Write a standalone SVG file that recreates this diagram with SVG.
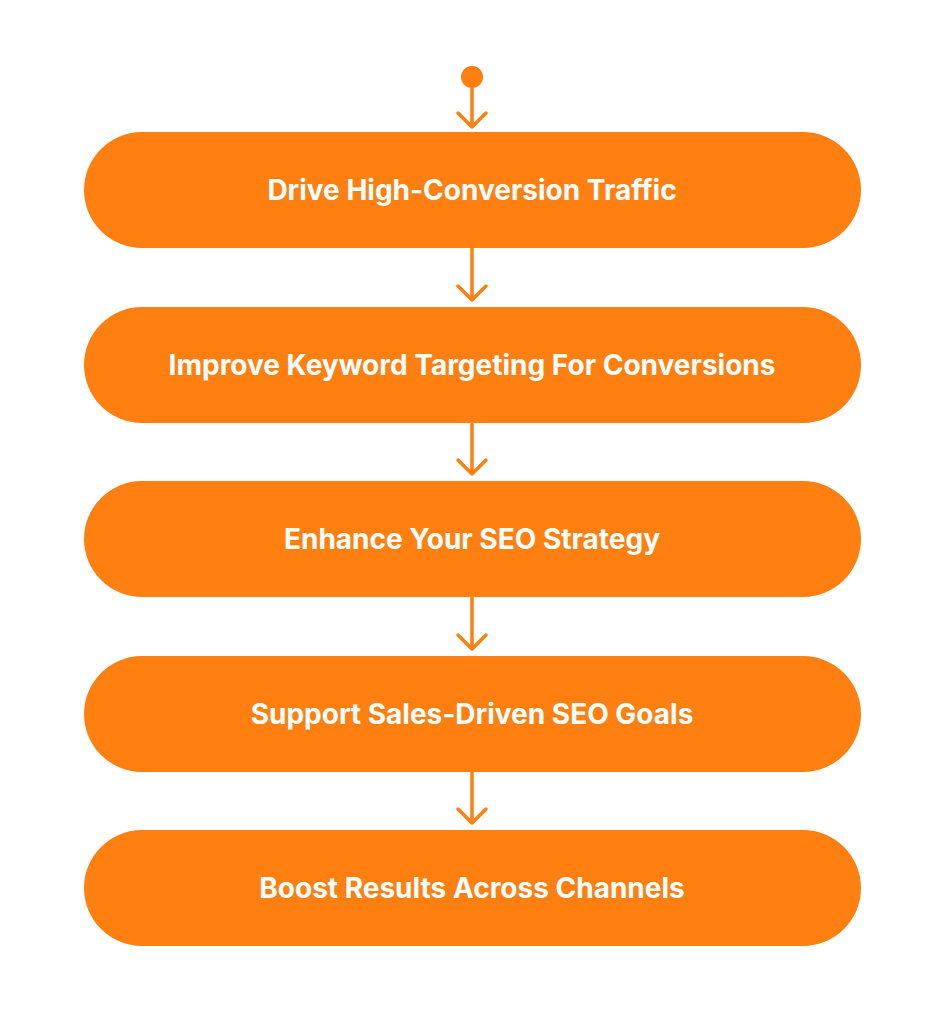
<svg xmlns="http://www.w3.org/2000/svg" width="945" height="1024" viewBox="0 0 945 1024">
<style>
.n{fill:#FF7F10}
.t{fill:#fff;font-family:Inter,"Liberation Sans",sans-serif;font-weight:700;font-size:28px;text-anchor:middle;dominant-baseline:central}
.c{stroke:#FF7F10;stroke-width:3.5;fill:none;stroke-linecap:round;stroke-linejoin:round}
</style>
<rect width="945" height="1024" fill="#fff"/>
<g id="connectors">
<circle cx="472" cy="77" r="11" fill="#FF7F10"/>
<path class="c" d="M472 80V127M458 113L472 127L486 113"/>
<path class="c" d="M472 249V300M458 286L472 300L486 286"/>
<path class="c" d="M472 424V474M458 460L472 474L486 460"/>
<path class="c" d="M472 598V649M458 635L472 649L486 635"/>
<path class="c" d="M472 773V823M458 809L472 823L486 809"/>
</g>
<g id="n1"><rect class="n" x="84" y="132" width="777" height="116" rx="58"/><text class="t" x="472" y="190">Drive High-Conversion Traffic</text></g>
<g id="n2"><rect class="n" x="84" y="307" width="777" height="116" rx="58"/><text class="t" x="472" y="365">Improve Keyword Targeting For Conversions</text></g>
<g id="n3"><rect class="n" x="84" y="481" width="777" height="116" rx="58"/><text class="t" x="472" y="539">Enhance Your SEO Strategy</text></g>
<g id="n4"><rect class="n" x="84" y="656" width="777" height="116" rx="58"/><text class="t" x="472" y="714">Support Sales-Driven SEO Goals</text></g>
<g id="n5"><rect class="n" x="84" y="830" width="777" height="116" rx="58"/><text class="t" x="472" y="888">Boost Results Across Channels</text></g>
</svg>
